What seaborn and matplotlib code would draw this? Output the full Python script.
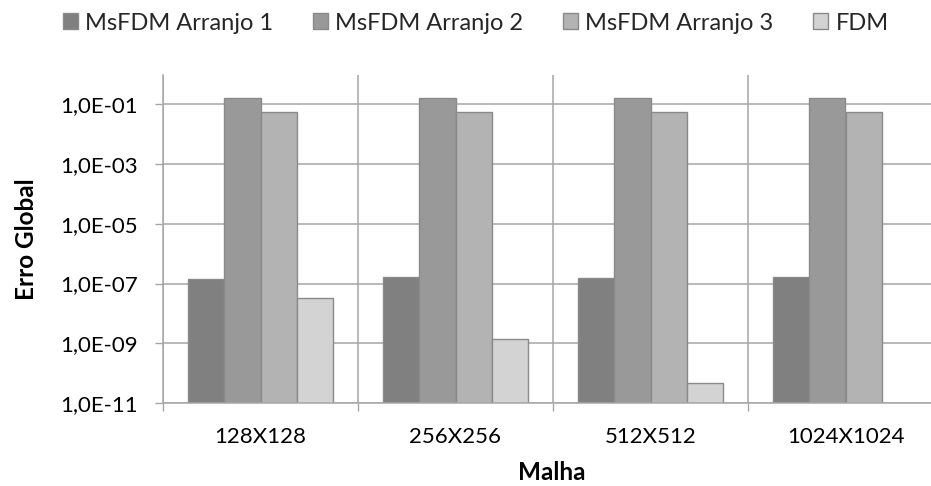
import numpy as np
import pandas as pd
import matplotlib
matplotlib.use("Agg")
import matplotlib.pyplot as plt
import seaborn as sns
from matplotlib.ticker import FixedLocator, NullLocator

# ---- data ----
categories = ["128X128", "256X256", "512X512", "1024X1024"]
series_names = ["MsFDM Arranjo 1", "MsFDM Arranjo 2", "MsFDM Arranjo 3", "FDM"]
arranjo1 = [1.45e-7, 1.6e-7, 1.5e-7, 1.6e-7]
arranjo2 = [0.16, 0.16, 0.16, 0.16]
arranjo3 = [0.056, 0.056, 0.056, 0.056]
fdm = [3.3e-8, 1.35e-9, 4.6e-11, np.nan]
ytick_values = [1e-11, 1e-9, 1e-7, 1e-5, 1e-3, 1e-1]
ytick_labels = ["1,0E-11", "1,0E-09", "1,0E-07", "1,0E-05", "1,0E-03", "1,0E-01"]
x_label = "Malha"
y_label = "Erro Global"
colors = ["#808080", "#999999", "#b3b3b3", "#d3d3d3"]

rows = []
for name, vals in zip(series_names, [arranjo1, arranjo2, arranjo3, fdm]):
    for c, v in zip(categories, vals):
        rows.append({"Malha": c, "Serie": name, "Erro": v})
df = pd.DataFrame(rows).dropna()

sns.set_theme(style="white")
plt.rcParams["font.family"] = ["Lato", "DejaVu Sans"]

W, H = 931, 486
fig = plt.figure(figsize=(W / 100, H / 100), dpi=100)
left, right, top, bottom = 163, 943, 74.6, 403
ax = fig.add_axes([left / W, 1 - bottom / H, (right - left) / W, (bottom - top) / H])
ax.set_yscale("log")

sns.barplot(data=df, x="Malha", y="Erro", hue="Serie", order=categories,
            hue_order=series_names, palette=colors, width=0.74, ax=ax,
            edgecolor="#8a8a8a", linewidth=1.0, saturation=1, legend=True,
            errorbar=None)

ax.set_xlim(-0.5, 3.5)
ax.set_ylim(1e-11, 1e0)

grid_c = "#a6a6a6"
ax.yaxis.set_major_locator(FixedLocator(ytick_values))
ax.yaxis.set_minor_locator(NullLocator())
ax.set_yticklabels(ytick_labels)
ax.set_xticks(range(len(categories)))
ax.set_xticklabels(categories)
ax.xaxis.set_minor_locator(FixedLocator([-0.5, 0.5, 1.5, 2.5, 3.5]))

ax.grid(False)
ax.yaxis.grid(True, which="major", color=grid_c, linewidth=1.1)
ax.xaxis.grid(True, which="minor", color=grid_c, linewidth=1.1)
ax.set_axisbelow(True)

for s in ["top", "right"]:
    ax.spines[s].set_visible(False)
for s in ["left", "bottom"]:
    ax.spines[s].set_color(grid_c)
    ax.spines[s].set_linewidth(1.1)

fs = 16
ax.tick_params(axis="y", which="major", length=6, width=1, color=grid_c,
               pad=12, labelsize=fs, labelcolor="#000000", left=True)
ax.tick_params(axis="x", which="major", length=0, pad=17, labelsize=fs,
               labelcolor="#000000")
ax.tick_params(axis="x", which="minor", length=5.5, width=1, color=grid_c,
               bottom=True)

ax.set_xlabel(x_label, fontsize=17.5, fontweight="bold", color="#000000")
ax.set_ylabel(y_label, fontsize=17.5, fontweight="bold", color="#000000")
ax.xaxis.set_label_coords((552 - left) / (right - left), (bottom - 472) / (bottom - top))
ax.yaxis.set_label_coords((26 - left) / (right - left), (bottom - 239) / (bottom - top))
ax.xaxis.label.set_va("center")
ax.yaxis.label.set_va("center")

handles, labels = ax.get_legend_handles_labels()
ax.get_legend().remove()
lfs = 17
px_per_fs = lfs * 100 / 72
fig.legend(handles, labels, ncol=4, loc="center left",
           bbox_to_anchor=(63 / W, 1 - 23 / H), frameon=False,
           fontsize=lfs, handlelength=15 / px_per_fs, handleheight=15 / px_per_fs,
           handletextpad=7 / px_per_fs, columnspacing=40 / px_per_fs,
           borderaxespad=0, borderpad=0)

fig.savefig("out.png", dpi=100)
